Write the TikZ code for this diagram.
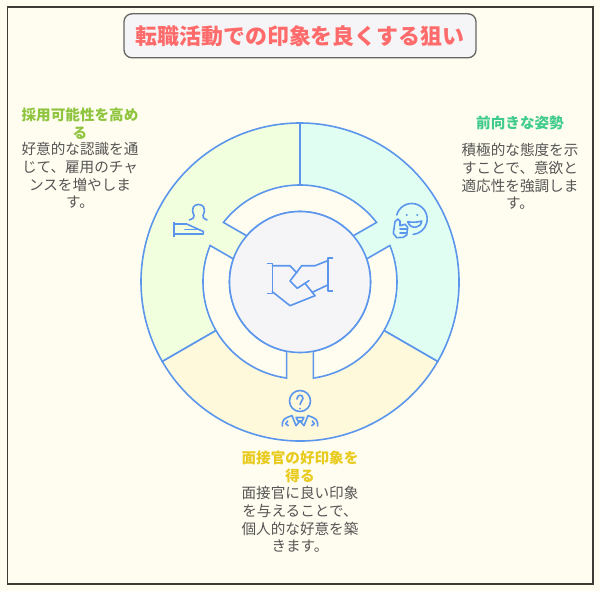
\documentclass[tikz,border=0pt]{standalone}
\usetikzlibrary{calc}
\usepackage{fontspec}
\setmainfont{Noto Sans CJK JP}
\definecolor{pagebg}{HTML}{FFFDEF}
\definecolor{framec}{HTML}{3C3C34}
\definecolor{linec}{HTML}{5B96EC}
\definecolor{greenfill}{HTML}{F2FFDE}
\definecolor{mintfill}{HTML}{E0FFF2}
\definecolor{yellowfill}{HTML}{FFF9DB}
\definecolor{centerfill}{HTML}{F5F5F7}
\definecolor{titlec}{HTML}{FF6B6B}
\definecolor{bodyc}{HTML}{555555}
\definecolor{headgreen}{HTML}{8FC43E}
\definecolor{headmint}{HTML}{3FCB8B}
\definecolor{headyellow}{HTML}{E8CB1E}
\tikzset{
  x=1pt,y=1pt,
  sector/.style={draw=linec,line width=1.6pt,line join=miter},
  ringseg/.style={draw=linec,fill=pagebg,line width=1.6pt,line join=miter},
  icon/.style={draw=linec,line width=1.6pt,line join=round,line cap=round},
  headtext/.style={font=\fontsize{14.6}{18}\selectfont\bfseries,align=center,inner sep=0pt},
  bodytext/.style={font=\fontsize{14.6}{17.8}\selectfont,text=bodyc,align=center,inner sep=0pt},
}
\begin{document}
\begin{tikzpicture}
\useasboundingbox (0,0) rectangle (600,-591);
\fill[pagebg] (0,0) rectangle (600,-591);
\draw[framec,line width=1.6pt] (7.3,-7.3) rectangle (592.7,-584);
\coordinate (c) at (300,-282);
% sectors
\filldraw[sector,fill=greenfill] (c) -- ++(90:159pt) arc[start angle=90,end angle=210,radius=159pt] -- cycle;
\filldraw[sector,fill=mintfill] (c) -- ++(-30:159pt) arc[start angle=-30,end angle=90,radius=159pt] -- cycle;
\filldraw[sector,fill=yellowfill] (c) -- ++(210:159pt) arc[start angle=210,end angle=330,radius=159pt] -- cycle;
% ring segments
\filldraw[ringseg] ($(c)+(142.1:97pt)$) arc[start angle=142.1,end angle=37.9,radius=97pt] -- ($(c)+(40.9:70.5pt)$) arc[start angle=40.9,end angle=139.1,radius=70.5pt] -- cycle;
\filldraw[ringseg] ($(c)+(157.9:97pt)$) arc[start angle=157.9,end angle=262.1,radius=97pt] -- ($(c)+(259.1:70.5pt)$) arc[start angle=259.1,end angle=160.9,radius=70.5pt] -- cycle;
\filldraw[ringseg] ($(c)+(277.9:97pt)$) arc[start angle=277.9,end angle=382.1,radius=97pt] -- ($(c)+(19.1:70.5pt)$) arc[start angle=379.1,end angle=280.9,radius=70.5pt] -- cycle;
\filldraw[ringseg,fill=centerfill] (c) circle[radius=70.5pt];
% handshake icon
\draw[icon,line cap=butt] (266.7,-263.3) -- (272.3,-263.3) -- (272.3,-293.3) -- (266.7,-293.3);
\draw[icon,line cap=butt] (333.3,-258) -- (327.7,-258) -- (327.7,-290.7) -- (333.3,-290.7);
\draw[icon] (272.3,-265.7) -- (290,-265.7) -- (296.7,-272.7);
\draw[icon] (272.3,-291.7) -- (290,-305.7) -- (315,-295.7);
\draw[icon] (327.7,-260.7) -- (315,-265.7) -- (301.7,-265.7) -- (290,-281) -- (297.3,-288.3) -- (309,-280.7);
\draw[icon] (305,-283.3) -- (315,-295.7);
\draw[icon] (312.3,-292.3) -- (327.7,-285);
% person with hand icon
\draw[icon] (189.3,-220) .. controls (193,-218.5) and (195,-217.5) .. (194,-215.5) .. controls (190.5,-208) and (194,-204.5) .. (198.5,-204.5) .. controls (203,-204.5) and (206.5,-208) .. (203,-215.5) .. controls (202,-217.5) and (204,-218.5) .. (207,-220);
\draw[icon,line cap=butt] (174,-221.7) -- (174,-236.7);
\draw[icon] (174,-224) -- (186.7,-224) -- (203.3,-231.5) -- (203.3,-234) -- (174,-234);
\draw[icon] (185,-229.3) -- (198.3,-229.3);
% smiley icon
\draw[icon] (411.7,-219) ++(165:15.5pt) arc[start angle=165,end angle=-85,radius=15.5pt];
\fill[linec] (406.7,-215) circle[radius=1.1pt] (417.3,-215) circle[radius=1.1pt];
\draw[icon] (407.7,-221.7) .. controls (411,-222.5) and (418,-222.5) .. (421.7,-221) .. controls (421,-229) and (410,-229.5) .. (407.7,-221.7) -- cycle;
\draw[icon] (394.3,-226.7) -- (395,-221.7) -- (397.7,-219) -- (400,-221) -- (400,-225.7) -- (405,-224.3) -- (407.7,-227.3) -- (406.7,-235) -- (403.3,-237.3) -- (396.7,-237.7) -- (393.3,-233.3) -- cycle;
\draw[icon] (400,-229) -- (407,-229) (400,-233) -- (406.5,-233);
% question person icon
\draw[icon] (300,-401) circle[radius=10.5pt];
\draw[icon] (297,-399) .. controls (297,-394) and (303,-394) .. (303,-398.5) .. controls (303,-401) and (300,-401) .. (300,-404.5);
\fill[linec] (300,-408.7) circle[radius=1pt];
\draw[icon] (282.3,-426) .. controls (282,-420) and (284,-418) .. (292,-415.7) (317.7,-426) .. controls (318,-420) and (316,-418) .. (308,-415.7);
\draw[icon] (287.7,-421) -- (285.7,-423.7) -- (288.3,-425.7) (312.3,-421) -- (314.3,-423.7) -- (311.7,-425.7);
\draw[icon] (292,-415.7) -- (296,-425.7) -- (300,-421) -- (304,-425.7) -- (308,-415.7);
\draw[icon] (296,-417.5) -- (304,-417.5) -- (302,-421) -- (298,-421) -- cycle;
% title
\node[draw=black!60,fill=centerfill,line width=1.3pt,rounded corners=8pt,minimum width=352pt,minimum height=44pt,inner sep=0pt,text=titlec,font=\fontsize{21.9}{26}\selectfont\bfseries] (title) at (300,-35.8) {転職活動での印象を良くする狙い};
% texts
\node[headtext,text=headgreen] (h1) at (80,-124) {採用可能性を高め\\る};
\node[bodytext] (b1) at (80,-175.5) {好意的な認識を通\\じて、雇用のチャ\\ンスを増やしま\\す。};
\node[headtext,text=headmint] (h2) at (520,-123) {前向きな姿勢};
\node[bodytext] (b2) at (520,-176.5) {積極的な態度を示\\すことで、意欲と\\適応性を強調しま\\す。};
\node[headtext,text=headyellow] (h3) at (300,-467) {面接官の好印象を\\得る};
\node[bodytext] (b3) at (300,-519.5) {面接官に良い印象\\を与えることで、\\個人的な好意を築\\きます。};
\end{tikzpicture}
\end{document}
